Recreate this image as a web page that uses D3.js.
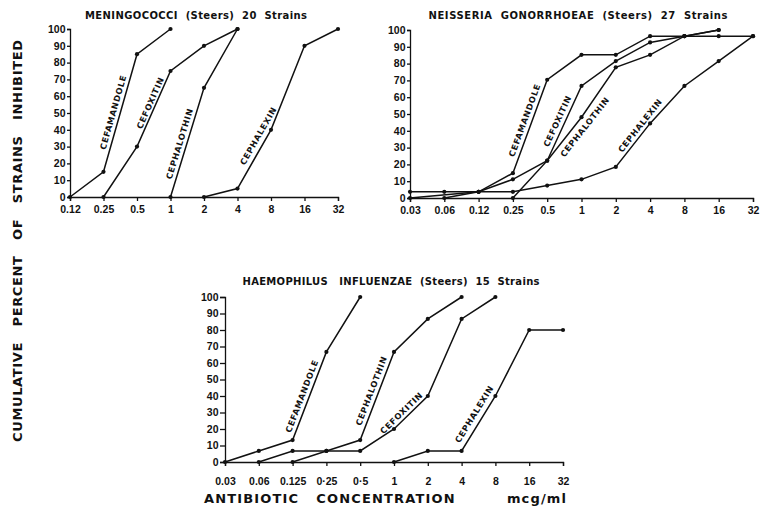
<!DOCTYPE html>
<html>
<head>
<meta charset="utf-8">
<script src="https://cdn.jsdelivr.net/npm/d3@7"></script>
<style>
  body { margin: 0; background: #fff; }
  svg { font-family: "DejaVu Sans", sans-serif; }
  .tick text { font-weight: bold; font-size: 10.5px; fill: #111; }
  .tick line, .domain { stroke: #111; stroke-width: 1.3; }
  .title { font-weight: bold; font-size: 10px; white-space: pre; fill: #111; }
  .drug { font-weight: bold; font-size: 8.3px; letter-spacing: 0.7px; fill: #111; }
  .axis-title { font-weight: bold; font-size: 13px; white-space: pre; fill: #111; }
  .curve { fill: none; stroke: #111; stroke-width: 1.5; }
</style>
</head>
<body>
<svg width="765" height="515"></svg>
<script>
const svg = d3.select('svg');

// tick labels (concentration, mcg/ml)
const concMen = ['0.12', '0.25', '0.5', '1', '2', '4', '8', '16', '32'];
const concGon = ['0.03', '0.06', '0.12', '0.25', '0.5', '1', '2', '4', '8', '16', '32'];
const concHae = ['0.03', '0.06', '0.125', '0·25', '0·5', '1', '2', '4', '8', '16', '32'];
const pctTicks = d3.range(0, 101, 10);

// Meningococci (20 strains): [concentration, cumulative %]
const menCefamandole = [['0.12', 0], ['0.25', 15], ['0.5', 85], ['1', 100]];
const menCefoxitin = [['0.25', 0], ['0.5', 30], ['1', 75], ['2', 90], ['4', 100]];
const menCephalothin = [['1', 0], ['2', 65], ['4', 100]];
const menCephalexin = [['2', 0], ['4', 5], ['8', 40], ['16', 90], ['32', 100]];

// Neisseria gonorrhoeae (27 strains)
const gonCefamandole = [['0.03', 0], ['0.12', 3.7], ['0.25', 14.8], ['0.5', 70.4], ['1', 85.2], ['2', 85.2], ['4', 96.3], ['8', 96.3], ['16', 100]];
const gonCefoxitin = [['0.25', 0], ['0.5', 22.2], ['1', 66.7], ['2', 81.5], ['4', 92.6], ['8', 96.3], ['16', 100]];
const gonCephalothin = [['0.06', 0], ['0.12', 3.7], ['0.25', 11.1], ['0.5', 22.2], ['1', 48.1], ['2', 77.8], ['4', 85.2], ['8', 96.3], ['16', 96.3], ['32', 96.3]];
const gonCephalexin = [['0.03', 3.7], ['0.06', 3.7], ['0.12', 3.7], ['0.25', 3.7], ['0.5', 7.4], ['1', 11.1], ['2', 18.5], ['4', 44.4], ['8', 66.7], ['16', 81.5], ['32', 96.3]];

// Haemophilus influenzae (15 strains)
const haeCefamandole = [['0.03', 0], ['0.06', 6.7], ['0.125', 13.3], ['0·25', 66.7], ['0·5', 100]];
const haeCephalothin = [['0.06', 0], ['0.125', 6.7], ['0·25', 6.7], ['0·5', 13.3], ['1', 66.7], ['2', 86.7], ['4', 100]];
const haeCefoxitin = [['0.125', 0], ['0·25', 6.7], ['0·5', 6.7], ['1', 20], ['2', 40], ['4', 86.7], ['8', 100]];
const haeCephalexin = [['1', 0], ['2', 6.7], ['4', 6.7], ['8', 40], ['16', 80], ['32', 80]];

const drawPanel = p => {
    const x = d3.scalePoint().domain(p.cats).range([p.left, p.right]);
    const y = d3.scaleLinear().domain([0, 100]).range([p.bottom, p.top]);

    const g = svg.append('g');

    g.append('g')
        .attr('transform', `translate(0,${p.bottom})`)
        .call(d3.axisBottom(x).tickSizeOuter(0).tickSize(4).tickPadding(p.xPad));

    g.append('g')
        .attr('transform', `translate(${p.left},0)`)
        .call(d3.axisLeft(y).tickValues(pctTicks).tickSizeOuter(0).tickSize(p.yTick).tickPadding(1.5));

    const line = d3.line().x(d => x(d[0])).y(d => y(d[1]));

    p.series.forEach(s => {
        g.append('path').attr('class', 'curve').attr('d', line(s.data));
        g.selectAll(null).data(s.data).enter().append('circle')
            .attr('cx', d => x(d[0])).attr('cy', d => y(d[1])).attr('r', 2.1).attr('fill', '#111');
    });

    // drug names set along one segment of their curve
    p.series.forEach(s => {
        const a = s.data[s.seg], b = s.data[s.seg + 1];
        const ax = x(a[0]), ay = y(a[1]), bx = x(b[0]), by = y(b[1]);
        const len = Math.hypot(bx - ax, by - ay);
        const ux = (bx - ax) / len, uy = (by - ay) / len;
        const cx = ax + ux * len * s.t + uy * s.off;
        const cy = ay + uy * len * s.t - ux * s.off;
        const ang = Math.atan2(uy, ux) * 180 / Math.PI;
        g.append('text').attr('class', 'drug')
            .attr('transform', `translate(${cx},${cy}) rotate(${ang})`)
            .attr('text-anchor', 'middle').attr('dy', '0.35em')
            .text(s.name);
    });

    g.append('text').attr('class', 'title')
        .attr('x', p.titleX).attr('y', p.titleY)
        .attr('text-anchor', 'middle')
        .attr('textLength', p.titleLen).attr('lengthAdjust', 'spacing')
        .text(p.title);
};

drawPanel({
    cats: concMen, left: 70, right: 338, top: 29, bottom: 197, xPad: 5, yTick: 3,
    title: 'MENINGOCOCCI  (Steers)  20  Strains', titleX: 196, titleY: 19, titleLen: 222,
    series: [
        {name: 'CEFAMANDOLE', data: menCefamandole, seg: 1, t: 0.49, off: 7},
        {name: 'CEFOXITIN', data: menCefoxitin, seg: 1, t: 0.55, off: 5.5},
        {name: 'CEPHALOTHIN', data: menCephalothin, seg: 0, t: 0.47, off: 7},
        {name: 'CEPHALEXIN', data: menCephalexin, seg: 1, t: 0.83, off: 8}
    ]
});

drawPanel({
    cats: concGon, left: 410, right: 753, top: 30, bottom: 198, xPad: 5, yTick: 3,
    title: 'NEISSERIA  GONORRHOEAE  (Steers)  27  Strains', titleX: 578, titleY: 19, titleLen: 299,
    series: [
        {name: 'CEFAMANDOLE', data: gonCefamandole, seg: 2, t: 0.54, off: 7.2},
        {name: 'CEFOXITIN', data: gonCefoxitin, seg: 1, t: 0.49, off: 7.2},
        {name: 'CEPHALOTHIN', data: gonCephalothin, seg: 3, t: 0.9, off: -8.7},
        {name: 'CEPHALEXIN', data: gonCephalexin, seg: 6, t: 0.86, off: 6.5}
    ]
});

drawPanel({
    cats: concHae, left: 225, right: 563, top: 297, bottom: 462, xPad: 12, yTick: 5,
    title: 'HAEMOPHILUS   INFLUENZAE  (Steers)  15  Strains', titleX: 391, titleY: 285, titleLen: 297,
    series: [
        {name: 'CEFAMANDOLE', data: haeCefamandole, seg: 2, t: 0.47, off: 7},
        {name: 'CEPHALOTHIN', data: haeCephalothin, seg: 3, t: 0.53, off: 7.2},
        {name: 'CEFOXITIN', data: haeCefoxitin, seg: 3, t: 0.35, off: 6.3},
        {name: 'CEPHALEXIN', data: haeCephalexin, seg: 2, t: 0.59, off: 8.5}
    ]
});

svg.append('text').attr('class', 'axis-title')
    .attr('transform', 'translate(22,241) rotate(-90)')
    .attr('text-anchor', 'middle')
    .attr('textLength', 402).attr('lengthAdjust', 'spacing')
    .text('CUMULATIVE   PERCENT   OF   STRAINS   INHIBITED');

svg.append('text').attr('class', 'axis-title')
    .attr('x', 385).attr('y', 503)
    .attr('text-anchor', 'middle')
    .attr('textLength', 362).attr('lengthAdjust', 'spacing')
    .text('ANTIBIOTIC   CONCENTRATION         mcg/ml');
</script>
</body>
</html>
